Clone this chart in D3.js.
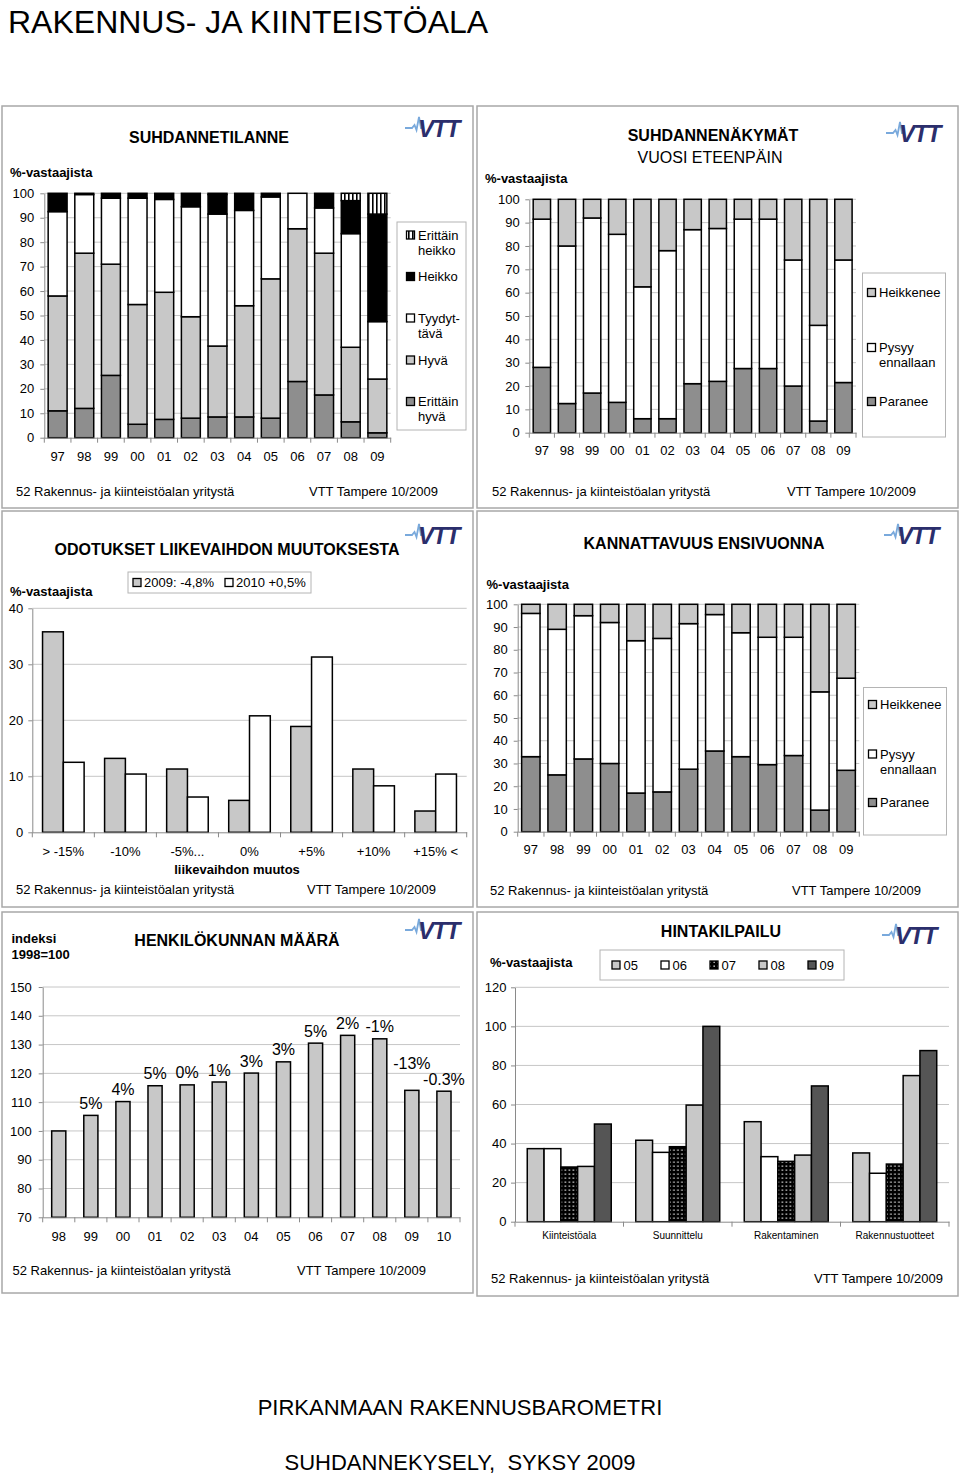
<!DOCTYPE html>
<html lang="fi">
<head>
<meta charset="UTF-8">
<title>Rakennus- ja kiinteistöala</title>
<script src="https://d3js.org/d3.v7.min.js"></script>
<style>
    body { margin: 0; background: #fff; }
    svg { display: block; font-family: Arial, "Liberation Sans", sans-serif; }
    .frame { fill: #fff; stroke: #a8a8a8; stroke-width: 1.5; }
    .grid line { stroke: #c6c6c6; stroke-width: 1; }
    .axis path, .axis line { stroke: #8a8a8a; }
    .axis text { font-size: 13px; fill: #000; font-family: Arial, "Liberation Sans", sans-serif; }
    .bar { stroke: #000; stroke-width: 1.5; }
    .title { font-weight: bold; font-size: 16px; }
    .sub { font-size: 16px; }
    .ylab { font-weight: bold; font-size: 13px; }
    .foot { font-size: 13px; }
    .leg text { font-size: 13px; }
    .legbox { fill: #fff; stroke: #b4b4b4; stroke-width: 1; }
    .dlab { font-size: 16px; }
</style>
</head>
<body>
<svg id="page" width="960" height="1474"></svg>
<script>
    // ---- data ----
    var years = ["97", "98", "99", "00", "01", "02", "03", "04", "05", "06", "07", "08", "09"];

    // SUHDANNETILANNE (% of respondents)
    var tilErittainHyva   = [11, 12, 25.5, 5.5, 7.5, 8, 8.5, 8.5, 8, 23, 17.5, 6.5, 2];
    var tilHyva           = [47, 63.5, 45.5, 49, 52, 41.5, 29, 45.5, 57, 62.5, 58, 30.5, 22];
    var tilTyydyttava     = [34.5, 24, 27, 43.5, 38, 45, 54, 39, 33.5, 14.5, 18.5, 46.5, 23.5];
    var tilHeikko         = [7.5, 0.5, 2, 2, 2.5, 5.5, 8, 7, 1.5, 0, 6, 13.5, 44];
    var tilErittainHeikko = [0, 0, 0, 0, 0, 0, 0.5, 0, 0, 0, 0, 3, 8.5];

    // SUHDANNENÄKYMÄT vuosi eteenpäin
    var nakParanee   = [28, 12.5, 17, 13, 6, 6, 21, 22, 27.5, 27.5, 20, 5, 21.5];
    var nakPysyy     = [63.5, 67.5, 75, 72, 56.5, 72, 66, 65.5, 64, 64, 54, 41, 52.5];
    var nakHeikkenee = [8.5, 20, 8, 15, 37.5, 22, 13, 12.5, 8.5, 8.5, 26, 54, 26];

    // ODOTUKSET LIIKEVAIHDON MUUTOKSESTA
    var muutosLuokat = ["> -15%", "-10%", "-5%...", "0%", "+5%", "+10%", "+15% <"];
    var muutos2009 = [35.8, 13.2, 11.3, 5.7, 18.9, 11.3, 3.8];
    var muutos2010 = [12.5, 10.4, 6.3, 20.8, 31.3, 8.3, 10.4];

    // KANNATTAVUUS ENSIVUONNA
    var kanParanee   = [33, 25, 32, 30, 17, 17.5, 27.5, 35.5, 33, 29.5, 33.5, 9.5, 27];
    var kanPysyy     = [63, 64, 63, 62, 67, 67.5, 64, 60, 54.5, 56, 52, 52, 40.5];
    var kanHeikkenee = [4, 11, 5, 8, 16, 15, 8.5, 4.5, 12.5, 14.5, 14.5, 38.5, 32.5];

    // HENKILÖKUNNAN MÄÄRÄ (indeksi 1998=100)
    var henkVuodet = ["98", "99", "00", "01", "02", "03", "04", "05", "06", "07", "08", "09", "10"];
    var henkIndeksi = [100, 105.4, 110.2, 115.7, 116, 117, 120.1, 124, 130.5, 133.2, 132, 114.1, 113.8];
    var henkMuutos = ["", "5%", "4%", "5%", "0%", "1%", "3%", "3%", "5%", "2%", "-1%", "-13%", "-0.3%"];

    // HINTAKILPAILU
    var hintaToimialat = ["Kiinteistöala", "Suunnittelu", "Rakentaminen", "Rakennustuotteet"];
    var hinta05 = [37.4, 41.7, 51.2, 35.2];
    var hinta06 = [37.4, 35.5, 33.3, 24.8];
    var hinta07 = [28, 38.4, 30.9, 29.5];
    var hinta08 = [28.3, 59.7, 34.1, 74.8];
    var hinta09 = [50, 100, 69.5, 87.6];

    var footLeft = "52 Rakennus- ja kiinteistöalan yritystä",
        footRight = "VTT Tampere 10/2009";

    // ---- drawing ----
    var svg = d3.select("#page");
    var defs = svg.append("defs");

    defs.append("pattern").attr("id", "stripes").attr("patternUnits", "userSpaceOnUse")
        .attr("width", 4).attr("height", 4)
        .call(p => {
            p.append("rect").attr("width", 4).attr("height", 4).attr("fill", "#fff");
            p.append("rect").attr("x", 0).attr("width", 1.6).attr("height", 4).attr("fill", "#000");
        });
    defs.append("pattern").attr("id", "dots").attr("patternUnits", "userSpaceOnUse")
        .attr("width", 4).attr("height", 4)
        .call(p => {
            p.append("rect").attr("width", 4).attr("height", 4).attr("fill", "#000");
            p.append("rect").attr("x", 1.5).attr("y", 1.5).attr("width", 1.3).attr("height", 1.3).attr("fill", "#fff");
        });

    var MID = "#8e8e8e", LIGHT = "#c8c8c8", DARK = "#555";

    function txt(g, x, y, s, cls, anchor) {
        return g.append("text").attr("class", cls || null).attr("x", x).attr("y", y)
            .attr("dy", "0.35em").attr("text-anchor", anchor || "start").text(s);
    }

    function frame(x, y, w, h) {
        svg.append("rect").attr("class", "frame").attr("x", x).attr("y", y).attr("width", w).attr("height", h);
        return svg.append("g");
    }

    function logo(g, x, y) {
        var l = g.append("g").attr("transform", "translate(" + x + "," + y + ")");
        l.append("path")
            .attr("d", "M0,11 L7,11 L9.5,8 L11.5,13 L14,0 L16,11 L19,11")
            .attr("fill", "none").attr("stroke", "#79a9dc").attr("stroke-width", 1.8);
        l.append("text").attr("x", 13).attr("y", 20)
            .attr("font-size", 24).attr("font-weight", 900).attr("font-style", "italic")
            .attr("letter-spacing", -1.5).attr("fill", "#2b2e6c").text("VTT");
    }

    function footer(g, xl, xr, y) {
        txt(g, xl, y, footLeft, "foot");
        txt(g, xr, y, footRight, "foot");
    }

    function grid(g, y, vals, x0, x1) {
        g.append("g").attr("class", "grid").selectAll("line").data(vals).join("line")
            .attr("x1", x0).attr("x2", x1)
            .attr("y1", d => y(d)).attr("y2", d => y(d));
    }

    function yAxis(g, y, x0, vals, gap) {
        g.append("g").attr("class", "axis").attr("transform", "translate(" + x0 + ",0)")
            .call(d3.axisLeft(y).tickValues(vals).tickSize(4).tickSizeOuter(0).tickPadding(gap - 4));
    }

    function xAxis(g, x, y0, gap, fontSize) {
        var ax = g.append("g").attr("class", "axis").attr("transform", "translate(0," + y0 + ")")
            .call(d3.axisBottom(x).tickSize(0).tickSizeOuter(0).tickPadding(gap));
        if (fontSize) ax.selectAll("text").style("font-size", fontSize + "px");
        var edges = x.domain().map(c => x(c) - x.step() * x.paddingInner() / 2).concat([x.range()[1]]);
        ax.selectAll(".edge").data(edges).join("line").attr("class", "edge")
            .attr("x1", d => d).attr("x2", d => d).attr("y1", 0).attr("y2", 5);
    }

    function legendItem(g, sx, tx, cy, fill, lines) {
        g.append("rect").attr("x", sx).attr("y", cy - 4).attr("width", 8).attr("height", 8)
            .attr("fill", fill).attr("stroke", "#000").attr("stroke-width", 1.3);
        lines.forEach((t, i) => txt(g, tx, cy + i * 15, t));
    }

    function stacked(g, o) {
        var x = d3.scaleBand().domain(o.cats).range([o.x0, o.x1]).paddingInner(o.pad).paddingOuter(o.pad / 2);
        var y = d3.scaleLinear().domain([0, 100]).range([o.y0, o.y1]);
        grid(g, y, d3.range(10, 101, 10), o.x0, o.x1);
        var layers = d3.stack().keys(o.keys)(o.rows);
        g.append("g").selectAll("g").data(layers).join("g")
            .attr("fill", d => o.fills[d.key])
            .selectAll("rect").data(d => d.filter(s => s[1] - s[0] > 0)).join("rect")
            .attr("class", "bar")
            .attr("x", d => x(d.data.cat)).attr("width", x.bandwidth())
            .attr("y", d => y(d[1])).attr("height", d => y(d[0]) - y(d[1]));
        yAxis(g, y, o.x0, d3.range(0, 101, 10), o.ygap);
        xAxis(g, x, o.y0, o.xgap);
    }

    function grouped(g, o) {
        var x = d3.scaleBand().domain(o.cats).range([o.x0, o.x1]).paddingInner(o.pad).paddingOuter(o.pad / 2);
        var xs = d3.scaleBand().domain(o.keys).range([0, x.bandwidth()]);
        var y = d3.scaleLinear().domain(o.domain).range([o.y0, o.y1]);
        grid(g, y, o.ticks.slice(1), o.x0, o.x1);
        g.append("g").selectAll("g").data(o.rows).join("g")
            .attr("transform", d => "translate(" + x(d.cat) + ",0)")
            .selectAll("rect").data(d => o.keys.map(k => ({ key: k, value: d[k] }))).join("rect")
            .attr("class", "bar")
            .attr("fill", d => o.fills[d.key])
            .attr("x", d => xs(d.key)).attr("width", xs.bandwidth())
            .attr("y", d => y(d.value)).attr("height", d => y(o.domain[0]) - y(d.value));
        yAxis(g, y, o.x0, o.ticks, o.ygap);
        xAxis(g, x, o.y0, o.xgap, o.xfont);
    }

    // page titles
    svg.append("text").attr("x", 8).attr("y", 33).attr("font-size", 32).text("RAKENNUS- JA KIINTEISTÖALA");
    svg.append("text").attr("x", 460).attr("y", 1415).attr("font-size", 22).attr("text-anchor", "middle")
        .text("PIRKANMAAN RAKENNUSBAROMETRI");
    svg.append("text").attr("x", 460).attr("y", 1470).attr("font-size", 22).attr("text-anchor", "middle")
        .style("white-space", "pre").text("SUHDANNEKYSELY,  SYKSY 2009");

    // 1. SUHDANNETILANNE
    var g1 = frame(2, 106, 471, 402);
    txt(g1, 209, 137, "SUHDANNETILANNE", "title", "middle");
    logo(g1, 405, 117);
    txt(g1, 10, 172, "%-vastaajista", "ylab");
    stacked(g1, {
        cats: years, x0: 44.3, x1: 390.7, y0: 437.7, y1: 193.3, pad: 0.29, ygap: 10, xgap: 14,
        keys: ["eh", "hy", "ty", "he", "ehk"],
        fills: { eh: MID, hy: LIGHT, ty: "#fff", he: "#000", ehk: "url(#stripes)" },
        rows: years.map((c, i) => ({ cat: c, eh: tilErittainHyva[i], hy: tilHyva[i], ty: tilTyydyttava[i], he: tilHeikko[i], ehk: tilErittainHeikko[i] }))
    });
    var l1 = g1.append("g").attr("class", "leg");
    l1.append("rect").attr("class", "legbox").attr("x", 397).attr("y", 222).attr("width", 69).attr("height", 208);
    legendItem(l1, 406.5, 418, 235, "url(#stripes)", ["Erittäin", "heikko"]);
    legendItem(l1, 406.5, 418, 276.5, "#000", ["Heikko"]);
    legendItem(l1, 406.5, 418, 318, "#fff", ["Tyydyt-", "tävä"]);
    legendItem(l1, 406.5, 418, 360, LIGHT, ["Hyvä"]);
    legendItem(l1, 406.5, 418, 401.5, MID, ["Erittäin", "hyvä"]);
    footer(g1, 16, 309, 491);

    // 2. SUHDANNENÄKYMÄT
    var g2 = frame(477, 106, 481, 402);
    txt(g2, 713, 135.5, "SUHDANNENÄKYMÄT", "title", "middle");
    txt(g2, 710, 157.5, "VUOSI ETEENPÄIN", "sub", "middle");
    logo(g2, 886, 122);
    txt(g2, 485, 178, "%-vastaajista", "ylab");
    stacked(g2, {
        cats: years, x0: 529.3, x1: 856, y0: 432.7, y1: 199.3, pad: 0.31, ygap: 9.5, xgap: 13,
        keys: ["pa", "py", "he"],
        fills: { pa: MID, py: "#fff", he: LIGHT },
        rows: years.map((c, i) => ({ cat: c, pa: nakParanee[i], py: nakPysyy[i], he: nakHeikkenee[i] }))
    });
    var l2 = g2.append("g").attr("class", "leg");
    l2.append("rect").attr("class", "legbox").attr("x", 862.5).attr("y", 273).attr("width", 83).attr("height", 164);
    legendItem(l2, 867.5, 879, 292.5, LIGHT, ["Heikkenee"]);
    legendItem(l2, 867.5, 879, 347.5, "#fff", ["Pysyy", "ennallaan"]);
    legendItem(l2, 867.5, 879, 401.5, MID, ["Paranee"]);
    footer(g2, 492, 787, 491);

    // 3. ODOTUKSET LIIKEVAIHDON MUUTOKSESTA
    var g3 = frame(2, 511, 471, 396);
    txt(g3, 227, 549, "ODOTUKSET LIIKEVAIHDON MUUTOKSESTA", "title", "middle");
    logo(g3, 405, 524);
    txt(g3, 10, 591, "%-vastaajista", "ylab");
    var l3 = g3.append("g").attr("class", "leg");
    l3.append("rect").attr("class", "legbox").attr("x", 128).attr("y", 572).attr("width", 183).attr("height", 21);
    legendItem(l3, 133, 144, 582.5, LIGHT, ["2009: -4,8%"]);
    legendItem(l3, 225, 236, 582.5, "#fff", ["2010 +0,5%"]);
    grouped(g3, {
        cats: muutosLuokat, keys: ["a", "b"], x0: 32.3, x1: 466.7, y0: 832.3, y1: 608.3,
        domain: [0, 40], ticks: [0, 10, 20, 30, 40], pad: 0.33, ygap: 9, xgap: 14,
        fills: { a: LIGHT, b: "#fff" },
        rows: muutosLuokat.map((c, i) => ({ cat: c, a: muutos2009[i], b: muutos2010[i] }))
    });
    txt(g3, 237, 869.5, "liikevaihdon muutos", "ylab", "middle");
    footer(g3, 16, 307, 889.5);

    // 4. KANNATTAVUUS ENSIVUONNA
    var g4 = frame(477, 511, 481, 396);
    txt(g4, 704, 543.5, "KANNATTAVUUS ENSIVUONNA", "title", "middle");
    logo(g4, 884, 524);
    txt(g4, 486.5, 584, "%-vastaajista", "ylab");
    stacked(g4, {
        cats: years, x0: 517.7, x1: 859.3, y0: 831.7, y1: 604.3, pad: 0.3, ygap: 10, xgap: 13,
        keys: ["pa", "py", "he"],
        fills: { pa: MID, py: "#fff", he: LIGHT },
        rows: years.map((c, i) => ({ cat: c, pa: kanParanee[i], py: kanPysyy[i], he: kanHeikkenee[i] }))
    });
    var l4 = g4.append("g").attr("class", "leg");
    l4.append("rect").attr("class", "legbox").attr("x", 863.5).attr("y", 687.5).attr("width", 83).attr("height", 147.5);
    legendItem(l4, 868.5, 880, 704.5, LIGHT, ["Heikkenee"]);
    legendItem(l4, 868.5, 880, 754, "#fff", ["Pysyy", "ennallaan"]);
    legendItem(l4, 868.5, 880, 802.5, MID, ["Paranee"]);
    footer(g4, 490, 792, 890);

    // 5. HENKILÖKUNNAN MÄÄRÄ
    var g5 = frame(2, 912, 471, 381);
    txt(g5, 11.5, 938, "indeksi", "ylab");
    txt(g5, 11.5, 954.5, "1998=100", "ylab");
    txt(g5, 237, 940, "HENKILÖKUNNAN MÄÄRÄ", "title", "middle");
    logo(g5, 405, 919);
    var x5 = d3.scaleBand().domain(henkVuodet).range([42.7, 460]).paddingInner(0.56).paddingOuter(0.28);
    var y5 = d3.scaleLinear().domain([70, 150]).range([1217.3, 987]);
    grid(g5, y5, d3.range(80, 151, 10), 42.7, 460);
    g5.append("g").selectAll("rect").data(henkIndeksi).join("rect")
        .attr("class", "bar").attr("fill", LIGHT)
        .attr("x", (d, i) => x5(henkVuodet[i])).attr("width", x5.bandwidth())
        .attr("y", d => y5(d)).attr("height", d => y5(70) - y5(d));
    var labs = g5.append("g").selectAll("text").data(henkMuutos).join("text")
        .attr("class", "dlab").attr("text-anchor", "middle").attr("dy", "0.35em")
        .attr("x", (d, i) => x5(henkVuodet[i]) + x5.bandwidth() / 2)
        .attr("y", (d, i) => y5(henkIndeksi[i]) - 12)
        .text(d => d).nodes();
    // lift a label above its right neighbour when they collide
    for (var i = labs.length - 2; i >= 0; i--) {
        var a = labs[i].getBBox(), b = labs[i + 1].getBBox();
        if (a.width > 0 && a.x + a.width > b.x && a.y + a.height > b.y && a.y < b.y + b.height) {
            labs[i].setAttribute("y", +labs[i + 1].getAttribute("y") - 16);
        }
    }
    yAxis(g5, y5, 42.7, d3.range(70, 151, 10), 11);
    xAxis(g5, x5, 1217.3, 14);
    footer(g5, 12.5, 297, 1270);

    // 6. HINTAKILPAILU
    var g6 = frame(477, 912, 481, 384);
    txt(g6, 721, 931, "HINTAKILPAILU", "title", "middle");
    logo(g6, 882, 924);
    txt(g6, 490, 962, "%-vastaajista", "ylab");
    var l6 = g6.append("g").attr("class", "leg");
    l6.append("rect").attr("class", "legbox").attr("x", 600).attr("y", 950).attr("width", 244).attr("height", 30);
    var l6fills = [LIGHT, "#fff", "url(#dots)", LIGHT, DARK];
    ["05", "06", "07", "08", "09"].forEach((k, i) => legendItem(l6, 612 + i * 49, 623.5 + i * 49, 965, l6fills[i], [k]));
    grouped(g6, {
        cats: hintaToimialat, keys: ["h05", "h06", "h07", "h08", "h09"], x0: 515, x1: 949, y0: 1221.7, y1: 987.3,
        domain: [0, 120], ticks: [0, 20, 40, 60, 80, 100, 120], pad: 0.226, ygap: 8.5, xgap: 10, xfont: 10,
        fills: { h05: LIGHT, h06: "#fff", h07: "url(#dots)", h08: LIGHT, h09: DARK },
        rows: hintaToimialat.map((c, i) => ({ cat: c, h05: hinta05[i], h06: hinta06[i], h07: hinta07[i], h08: hinta08[i], h09: hinta09[i] }))
    });
    footer(g6, 491, 814, 1278);
</script>
</body>
</html>
